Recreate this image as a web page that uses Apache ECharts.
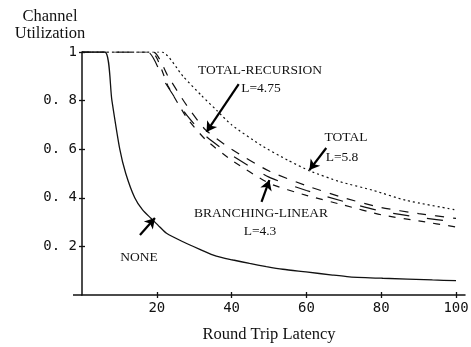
<!DOCTYPE html>
<html>
<head>
<meta charset="utf-8">
<script src="https://cdn.jsdelivr.net/npm/echarts@6/dist/echarts.min.js"></script>
<style>
html,body{margin:0;padding:0;background:#fff;}
#c{width:471px;height:347px;}
</style>
</head>
<body>
<div id="c"></div>
<script>
// ---- data ----
var xTicks = [20, 40, 60, 80, 100];
var yTicks = [0.2, 0.4, 0.6, 0.8, 1];

var noneX = [0, 6.1, 8.0, 10.1, 11.7, 14.1, 16.2, 18.5, 20.8, 22.6, 27.0, 31.5, 35.9, 40.4, 44.8, 49.3, 53.7, 59.9, 67.0, 71.5, 80.4, 93.7, 100];
var noneY = [1, 1, 0.8, 0.6, 0.5, 0.4, 0.35, 0.315, 0.28, 0.254, 0.219, 0.188, 0.160, 0.144, 0.130, 0.117, 0.106, 0.095, 0.082, 0.075, 0.069, 0.062, 0.059];

var totalX = [0, 21.3, 27, 32, 36, 40, 48, 55, 61, 69, 78, 86.5, 100];
var totalY = [1, 1, 0.9, 0.82, 0.76, 0.70, 0.615, 0.555, 0.51, 0.466, 0.43, 0.39, 0.35];

var recX = [0, 19, 23, 28, 33, 40, 50, 60, 70, 80, 90, 100];
var recY = [1, 1, 0.9, 0.78, 0.68, 0.60, 0.51, 0.45, 0.40, 0.36, 0.335, 0.315];

var branchX = [0, 17.5, 22, 28, 33, 40, 50, 60, 70, 80, 90, 100];
var branchY = [1, 1, 0.88, 0.74, 0.655, 0.575, 0.485, 0.43, 0.385, 0.345, 0.32, 0.30];

var thirdX = [0, 18.5, 23, 28, 33, 40, 50, 60, 70, 80, 90, 100];
var thirdY = [1, 1, 0.86, 0.73, 0.64, 0.555, 0.46, 0.41, 0.37, 0.33, 0.305, 0.28];

// annotation arrows in data coordinates: [fromX, fromY, toX, toY]
var arrowRec = [41.9, 0.868, 33.3, 0.671];
var arrowTotal = [65.3, 0.605, 60.8, 0.514];
var arrowBranch = [48.0, 0.383, 50.1, 0.473];
var arrowNone = [15.5, 0.247, 19.5, 0.317];

function zip(xs, ys) { return xs.map(function (x, i) { return [x, ys[i]]; }); }
function arrow(a) { return [{coord: [a[0], a[1]]}, {coord: [a[2], a[3]]}]; }

var ink = '#111';
var serif = '"Liberation Serif", "Times New Roman", serif';
var mono = '"DejaVu Sans Mono", monospace';

var chart = echarts.init(document.getElementById('c'), null, {renderer: 'canvas'});
var xCommon = {type: 'value', min: 0, max: 102.4, splitLine: {show: false}};
var yCommon = {type: 'value', min: 0, max: 1, splitLine: {show: false}};

chart.setOption({
  animation: false,
  backgroundColor: '#fff',
  grid: {left: 82, right: 6, top: 52, bottom: 52, outerBoundsMode: 'none', containLabel: false},
  xAxis: [
    Object.assign({}, xCommon, {
      position: 'bottom',
      axisLine: {lineStyle: {color: ink, width: 1.5}},
      axisTick: {customValues: xTicks, length: 3, lineStyle: {color: ink, width: 1.3}},
      axisLabel: {customValues: xTicks, color: ink, fontFamily: mono, fontSize: 14, margin: 6}
    }),
    Object.assign({}, xCommon, {
      position: 'bottom',
      axisLine: {show: false},
      axisTick: {customValues: xTicks, inside: true, length: 3, lineStyle: {color: ink, width: 1.3}},
      axisLabel: {show: false}
    })
  ],
  yAxis: [
    Object.assign({}, yCommon, {
      position: 'left',
      axisLine: {show: true, onZero: false, lineStyle: {color: ink, width: 1.5}},
      axisTick: {customValues: yTicks, length: 3, lineStyle: {color: ink, width: 1.3}},
      axisLabel: {
        customValues: yTicks, color: ink, fontFamily: mono, fontSize: 14, margin: 5,
        formatter: function (v) { return v === 1 ? '1' : v.toFixed(1).replace('.', '. '); }
      }
    }),
    Object.assign({}, yCommon, {
      position: 'left',
      axisLine: {show: false, onZero: false},
      axisTick: {customValues: yTicks, inside: true, length: 3, lineStyle: {color: ink, width: 1.3}},
      axisLabel: {show: false}
    })
  ],
  series: [
    {
      name: 'NONE', type: 'line', data: zip(noneX, noneY), symbol: 'none', smooth: 0.25,
      lineStyle: {color: ink, width: 1.3, type: 'solid'},
      markLine: {
        silent: true, symbol: ['none', 'arrow'], symbolSize: [9, 10],
        label: {show: false},
        lineStyle: {color: '#000', width: 2.2, type: 'solid'},
        data: [arrow(arrowRec), arrow(arrowTotal), arrow(arrowBranch), arrow(arrowNone)]
      }
    },
    {
      name: 'TOTAL', type: 'line', data: zip(totalX, totalY), symbol: 'none', smooth: 0.2,
      lineStyle: {color: ink, width: 1.2, type: [2, 3]}
    },
    {
      name: 'TOTAL-RECURSION', type: 'line', data: zip(recX, recY), symbol: 'none', smooth: 0.2,
      lineStyle: {color: ink, width: 1.2, type: [9, 9]}
    },
    {
      name: 'BRANCHING-LINEAR', type: 'line', data: zip(branchX, branchY), symbol: 'none', smooth: 0.2,
      lineStyle: {color: ink, width: 1.2, type: [16, 18]}
    },
    {
      name: 'OTHER', type: 'line', data: zip(thirdX, thirdY), symbol: 'none', smooth: 0.2,
      lineStyle: {color: ink, width: 1.2, type: [7, 8]}
    }
  ],
  graphic: [
    {type: 'line', shape: {x1: 73, y1: 295, x2: 82, y2: 295}, style: {stroke: ink, lineWidth: 1.5}, z: 10},
    {type: 'text', x: 50, y: 8, style: {text: 'Channel\nUtilization', font: '16.5px ' + serif, fill: ink, align: 'center', verticalAlign: 'top', lineHeight: 17}},
    {type: 'text', x: 269, y: 335, style: {text: 'Round Trip Latency', font: '16.5px ' + serif, fill: ink, align: 'center', verticalAlign: 'middle'}},
    {type: 'text', x: 260, y: 70, style: {text: 'TOTAL-RECURSION', font: '13.5px ' + serif, fill: ink, align: 'center', verticalAlign: 'middle'}},
    {type: 'text', x: 261, y: 88, style: {text: 'L=4.75', font: '13.5px ' + serif, fill: ink, align: 'center', verticalAlign: 'middle'}},
    {type: 'text', x: 346, y: 137, style: {text: 'TOTAL', font: '13.5px ' + serif, fill: ink, align: 'center', verticalAlign: 'middle'}},
    {type: 'text', x: 342, y: 157, style: {text: 'L=5.8', font: '13.5px ' + serif, fill: ink, align: 'center', verticalAlign: 'middle'}},
    {type: 'text', x: 261, y: 213, style: {text: 'BRANCHING-LINEAR', font: '13.5px ' + serif, fill: ink, align: 'center', verticalAlign: 'middle'}},
    {type: 'text', x: 260, y: 231, style: {text: 'L=4.3', font: '13.5px ' + serif, fill: ink, align: 'center', verticalAlign: 'middle'}},
    {type: 'text', x: 139, y: 257, style: {text: 'NONE', font: '13.5px ' + serif, fill: ink, align: 'center', verticalAlign: 'middle'}}
  ]
});
</script>
</body>
</html>
